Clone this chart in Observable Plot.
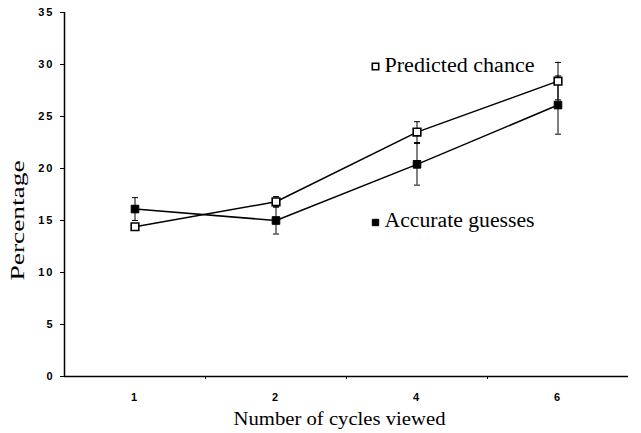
<!DOCTYPE html>
<html>
<head>
<meta charset="utf-8">
<script src="https://cdn.jsdelivr.net/npm/d3@7"></script>
<script src="https://cdn.jsdelivr.net/npm/@observablehq/plot@0.6"></script>
<style>
  html, body { margin: 0; padding: 0; background: #fff; }
  #chart svg { display: block; }
  .ytick text, .xtick text { font-family: "Liberation Sans", Arial, sans-serif; font-weight: bold; letter-spacing: 2px; }
  .lbl-legend text, .lbl-x text, .lbl-y text { font-family: "Liberation Serif", "Times New Roman", serif; font-weight: normal; }
</style>
</head>
<body>
<div id="chart"></div>
<script>
const cycles = ["1", "2", "4", "6"];
const predicted = [14.4, 16.8, 23.5, 28.4];
const predictedErr = [0.3, 0.5, 1.0, 1.8];
const accurate = [16.1, 15.0, 20.4, 26.1];
const accurateErr = [1.1, 1.3, 2.0, 2.8];
const yTicks = [0, 5, 10, 15, 20, 25, 30, 35];

const rows = [];
cycles.forEach((c, i) => {
  rows.push({series: "Predicted chance", idx: i + 1, v: predicted[i], lo: predicted[i] - predictedErr[i], hi: predicted[i] + predictedErr[i]});
  rows.push({series: "Accurate guesses", idx: i + 1, v: accurate[i], lo: accurate[i] - accurateErr[i], hi: accurate[i] + accurateErr[i]});
});
const pred = rows.filter(d => d.series === "Predicted chance");
const acc = rows.filter(d => d.series === "Accurate guesses");

const capSymbol = {
  draw(context, size) {
    const r = Math.sqrt(size) / 2;
    context.moveTo(-r, 0);
    context.lineTo(r, 0);
  }
};

const serif = "Liberation Serif";

const plot = Plot.plot({
  width: 641,
  height: 433,
  marginLeft: 64,
  marginRight: 13,
  marginTop: 12,
  marginBottom: 57,
  style: {background: "#fff", color: "#000"},
  x: {domain: [0.5, cycles.length + 0.5], axis: null},
  y: {domain: [0, 35], axis: null},
  marks: [
    // y axis
    Plot.axisY({ticks: yTicks, tickSize: 4, tickPadding: 6, fontSize: 11, className: "ytick", label: null}),
    Plot.ruleX([0.5], {stroke: "#000", strokeWidth: 1.5}),
    // x axis
    Plot.ruleY([0], {stroke: "#000", strokeWidth: 1.5}),
    Plot.axisX({ticks: [1.5, 2.5, 3.5], tickSize: 3, tickFormat: () => "", label: null}),
    Plot.axisX({ticks: cycles.map((c, i) => i + 1), tickSize: 0, tickPadding: 17, tickFormat: i => cycles[i - 1], fontSize: 11, className: "xtick", label: null}),
    // error bars
    Plot.ruleX(rows, {x: "idx", y1: "lo", y2: "hi", stroke: "#000", strokeWidth: 1}),
    Plot.dot(rows, {x: "idx", y: "lo", symbol: capSymbol, r: 3.4, stroke: "#000", strokeWidth: 1}),
    Plot.dot(rows, {x: "idx", y: "hi", symbol: capSymbol, r: 3.4, stroke: "#000", strokeWidth: 1}),
    // lines
    Plot.line(pred, {x: "idx", y: "v", stroke: "#000", strokeWidth: 1.5}),
    Plot.line(acc, {x: "idx", y: "v", stroke: "#000", strokeWidth: 1.5}),
    // markers
    Plot.dot(pred, {x: "idx", y: "v", symbol: "square", r: 4.3, fill: "#fff", stroke: "#000", strokeWidth: 1.6}),
    Plot.dot(acc, {x: "idx", y: "v", symbol: "square", r: 4.3, fill: "#000", stroke: "#000", strokeWidth: 1}),
    // in-plot legend
    Plot.dot(["Predicted chance"], {frameAnchor: "top-left", dx: 311, dy: 54, symbol: "square", r: 3.6, fill: "#fff", stroke: "#000", strokeWidth: 1.6}),
    Plot.text(["Predicted chance"], {frameAnchor: "top-left", dx: 320, dy: 53, text: d => d, textAnchor: "start", lineAnchor: "middle", fontSize: 20, fontFamily: serif, fill: "#000", className: "lbl-legend"}),
    Plot.dot(["Accurate guesses"], {frameAnchor: "top-left", dx: 311, dy: 210, symbol: "square", r: 3.6, fill: "#000", stroke: "#000", strokeWidth: 1}),
    Plot.text(["Accurate guesses"], {frameAnchor: "top-left", dx: 320, dy: 208, text: d => d, textAnchor: "start", lineAnchor: "middle", fontSize: 20, fontFamily: serif, fill: "#000", className: "lbl-legend"}),
    // axis titles
    Plot.text(["Number of cycles viewed"], {frameAnchor: "bottom", dx: -7, dy: 42, text: d => d, lineAnchor: "middle", fontSize: 19, fontFamily: serif, fill: "#000", className: "lbl-x"}),
    Plot.text(["Percentage"], {frameAnchor: "left", dx: -46, dy: 26, rotate: -90, textAnchor: "middle", lineAnchor: "middle", text: d => d, fontSize: 18, fontFamily: serif, fill: "#000", className: "lbl-y"})
  ]
});
document.getElementById("chart").appendChild(plot);

// stretch text to the reference's widths
function stretch(cls, len) {
  d3.select(plot).selectAll("g." + cls + " text").attr("textLength", len).attr("lengthAdjust", "spacingAndGlyphs");
}
stretch("lbl-legend", 150);
stretch("lbl-x", 212);
stretch("lbl-y", 120);
</script>
</body>
</html>
